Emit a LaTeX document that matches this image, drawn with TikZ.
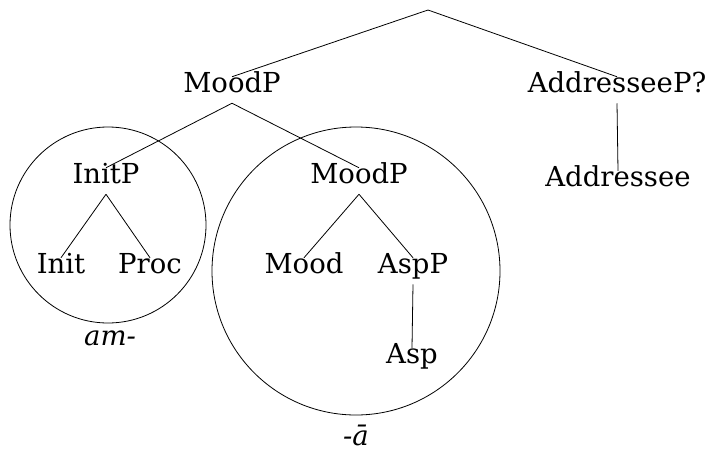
\documentclass[tikz,border=0pt]{standalone}
\usepackage{fontspec}
\setmainfont{DejaVu Serif}
\begin{document}
\begin{tikzpicture}[x=1pt, y=-1pt, line width=0.8pt,
    lbl/.style={inner xsep=0pt, inner ysep=8pt, text height=0.72em, text depth=0.25em},
    font=\fontsize{27.5}{32}\selectfont]
    \useasboundingbox (0, 0) rectangle (706, 453);

    \coordinate (root) at (428, 10);
    \node[lbl] (moodp) at (232, 90) {MoodP};
    \node[lbl] (addp) at (617, 90) {AddresseeP?};
    \node[lbl] (add) at (618, 184) {Addressee};
    \node[lbl] (initp) at (106, 181) {InitP};
    \node[lbl] (moodp2) at (359, 181) {MoodP};
    \node[lbl] (init) at (61, 271) {Init};
    \node[lbl] (proc) at (150, 271) {Proc};
    \node[lbl] (mood) at (304, 271) {Mood};
    \node[lbl] (aspp) at (413, 271) {AspP};
    \node[lbl] (asp) at (412, 361) {Asp};

    \draw (root) -- (moodp.north);
    \draw (root) -- (addp.north);
    \draw (addp.south) -- (add.north);
    \draw (moodp.south) -- (initp.north);
    \draw (moodp.south) -- (moodp2.north);
    \draw (initp.south) -- (init.north);
    \draw (initp.south) -- (proc.north);
    \draw (moodp2.south) -- (mood.north);
    \draw (moodp2.south) -- (aspp.north);
    \draw (aspp.south) -- (asp.north);

    % the two spell-out domains
    \draw (108, 225) circle (98pt);
    \draw (356, 271) circle (144pt);
    \node (am) at (110, 338) {\itshape am-};
    \node (abar) at (356, 435) {\itshape -ā};
\end{tikzpicture}
\end{document}
